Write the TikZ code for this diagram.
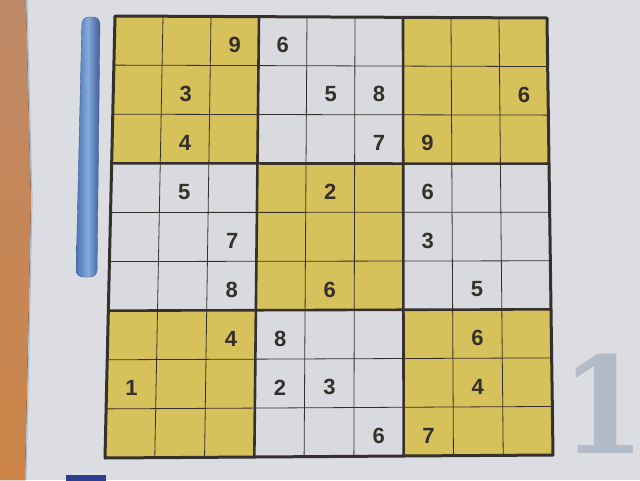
\documentclass[tikz,border=0pt]{standalone}
\usepackage{fontspec}
\setmainfont{Liberation Sans}
\newfontfamily\ghostfont{DejaVu Serif}[UprightFont={* Bold}]
\usetikzlibrary{calc}

\definecolor{woodA}{HTML}{BF8A68}
\definecolor{woodB}{HTML}{CC8446}
\definecolor{paper}{HTML}{DBDDE3}
\definecolor{cellwhite}{HTML}{D9DAE0}
\definecolor{boxyellow}{HTML}{D6C15A}
\definecolor{ink}{HTML}{35302B}
\definecolor{barEdge}{HTML}{4A72B4}
\definecolor{barLight}{HTML}{86AADC}
\definecolor{barDark}{HTML}{3C5C96}
\definecolor{navy}{HTML}{2D3E8C}
\definecolor{ghost}{HTML}{B3BAC8}
\definecolor{edgeblue}{HTML}{A9BED6}

\tikzset{
  thinline/.style={ink,line width=0.8pt},
  boxline/.style={ink,line width=2.6pt,line cap=round,line join=round},
  digit/.style={inner sep=0pt,text=ink,font=\bfseries\fontsize{22}{22}\selectfont,yshift=-4pt},
  pagenum/.style={inner sep=0pt,text=ghost,font=\ghostfont\fontsize{134}{134}\selectfont}
}

\begin{document}
\begin{tikzpicture}[x=1pt,y=-1pt]
\useasboundingbox (0,0) rectangle (640,480);

% paper and table
\fill[paper] (0,0) rectangle (640,480);
\fill[top color=woodA,bottom color=woodB] (0,0) -- (26,0) -- (31,200) -- (29,300) -- (25,480) -- (0,480) -- cycle;
\draw[edgeblue,line width=1.2pt] (27,0) -- (32,200) -- (30,300) -- (26,480);

% blue bar and marks
\draw[barDark,left color=barEdge,right color=barDark,middle color=barLight,rounded corners=7pt]
  (82,17) -- (100,17) -- (97,277) -- (76,277) -- cycle;
\fill[navy] (66,475) rectangle (106,481);
\node[pagenum,anchor=base] (num) at (603,453) {\makebox[60pt][c]{\scalebox{0.9}[1]{1}}};

% corners of the grid
\coordinate (TL) at (115,16);
\coordinate (TR) at (547,18);
\coordinate (BL) at (105,458);
\coordinate (BR) at (553,455);

\foreach \i in {0,...,9}{
  \coordinate (t\i) at ($(TL)!\i/9!(TR)$);
  \coordinate (b\i) at ($(BL)!\i/9!(BR)$);
}
\foreach \i in {0,...,9}
  \foreach \j in {0,...,9}
    \coordinate (p\i-\j) at ($(t\i)!\j/9!(b\i)$);

% cells
\fill[cellwhite] (p0-0) -- (p9-0) -- (p9-9) -- (p0-9) -- cycle;
\foreach \a/\b in {0/0,6/0,3/3,0/6,6/6}{
  \pgfmathtruncatemacro\c{\a+3}
  \pgfmathtruncatemacro\d{\b+3}
  \fill[boxyellow] (p\a-\b) -- (p\c-\b) -- (p\c-\d) -- (p\a-\d) -- cycle;
}

% lines
\foreach \k in {1,2,4,5,7,8}{
  \draw[thinline] (p\k-0) -- (p\k-9);
  \draw[thinline] (p0-\k) -- (p9-\k);
}
\foreach \k in {3,6}{
  \draw[boxline] (p\k-0) -- (p\k-9);
  \draw[boxline] (p0-\k) -- (p9-\k);
}
\draw[boxline,line width=3pt] (p0-0) -- (p9-0) -- (p9-9) -- (p0-9) -- cycle;

% givens: row/column/digit
\foreach \r/\c/\n in {1/3/9,1/4/6,2/2/3,2/5/5,2/6/8,2/9/6,3/2/4,3/6/7,3/7/9,
  4/2/5,4/5/2,4/7/6,5/3/7,5/7/3,6/3/8,6/5/6,6/8/5,
  7/3/4,7/4/8,7/8/6,8/1/1,8/4/2,8/5/3,8/8/4,9/6/6,9/7/7}{
  \pgfmathtruncatemacro\cc{\c-1}
  \pgfmathtruncatemacro\rr{\r-1}
  \node[digit] (d\r\c) at ($(p\cc-\rr)!0.5!(p\c-\r)$) {\n};
}

\end{tikzpicture}
\end{document}
